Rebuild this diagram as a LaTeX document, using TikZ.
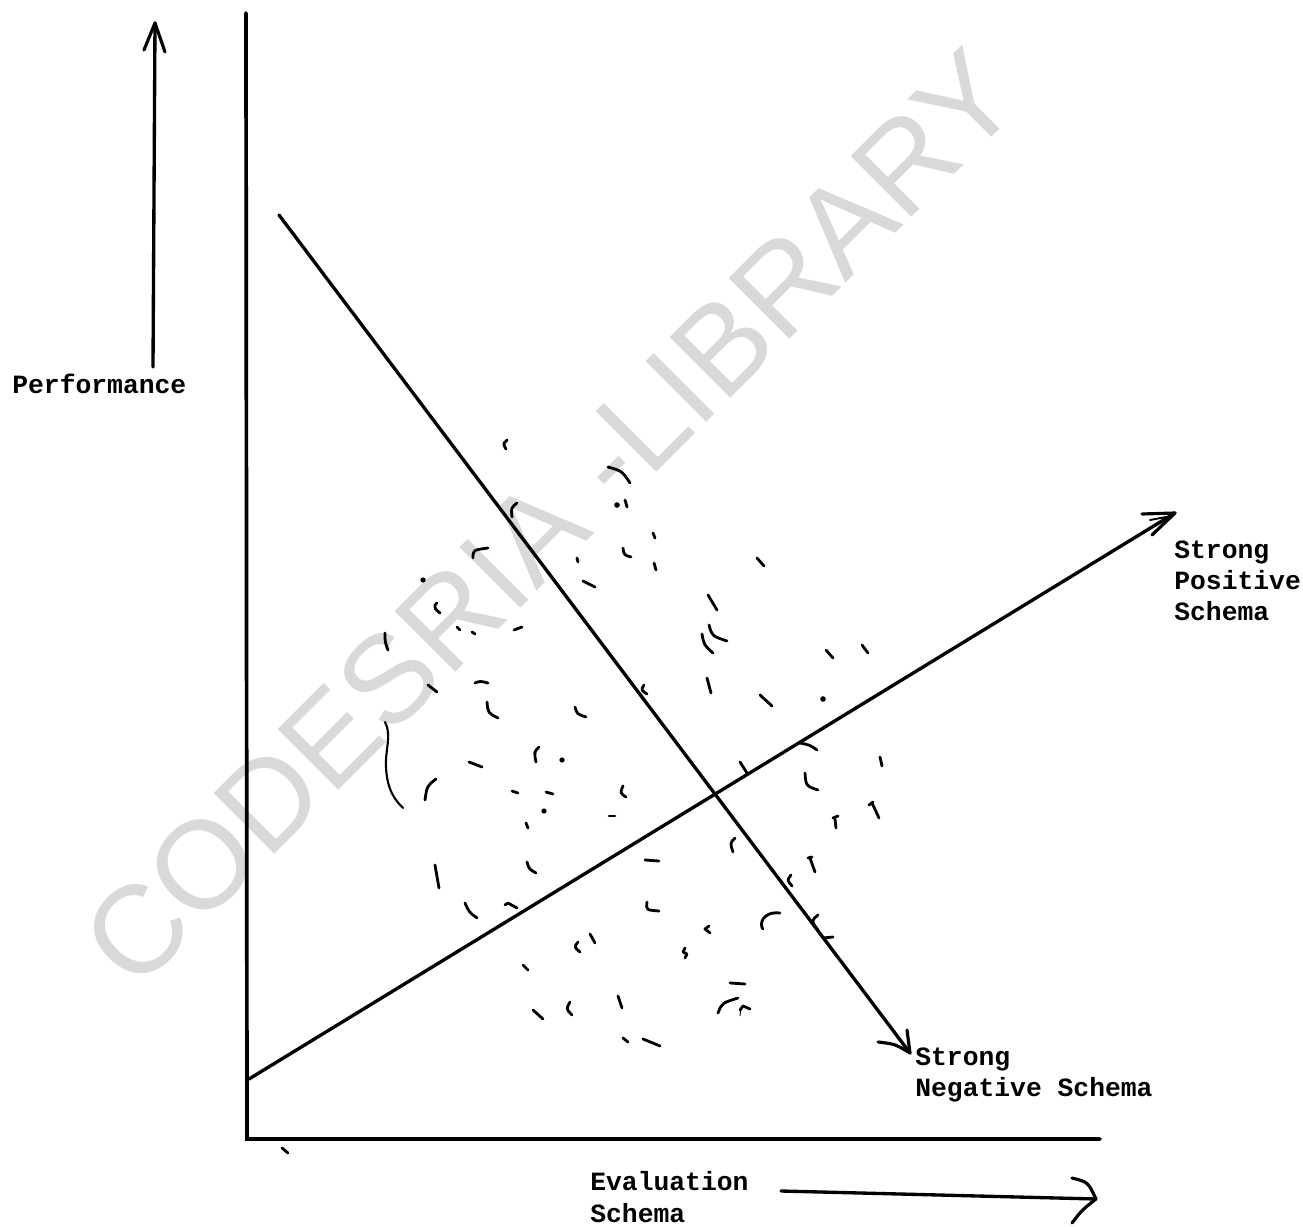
\documentclass[tikz,border=0pt]{standalone}
\usepackage{fontspec}
\newfontfamily\tw{Liberation Mono}
\newfontfamily\wmfont{Liberation Sans}
\begin{document}
\begin{tikzpicture}[x=0.02cm,y=-0.02cm,
  axisline/.style={line width=2.1pt,line cap=round},
  mainline/.style={line width=1.9pt,line cap=round,line join=round},
  barb/.style={line width=1.8pt,line cap=round,line join=round},
  mk/.style={line width=1.6pt,line cap=round,line join=round},
  dotmk/.style={fill=black},
  lbl/.style={font=\tw\bfseries\fontsize{15pt}{18pt}\selectfont,inner sep=0pt,anchor=base west},
  wm/.style={font=\wmfont\fontsize{71pt}{71pt}\selectfont,text=black!15,inner sep=0pt}]
\useasboundingbox (0,0) rectangle (1303,1227);
% watermark
\node[wm,rotate=45] (watermark) at (550,518) {CODESRIA -LIBRARY};
% coordinates
\coordinate (ytop) at (246,13);
\coordinate (origin) at (247,1139);
\coordinate (xend) at (1100,1139);
\coordinate (perfB) at (153,367);
\coordinate (perfT) at (155,23);
\coordinate (negS) at (279,215);
\coordinate (negT) at (910,1053);
\coordinate (posS) at (249,1079);
\coordinate (posT) at (1175,513);
\coordinate (evS) at (781,1191);
\coordinate (evT) at (1096,1199);
% axes
\draw[axisline] (ytop) -- (origin) -- (xend);
\draw[mk] (282,1148) -- (288,1153);
% performance arrow
\draw[mainline] (perfB) -- (perfT);
\draw[barb] (144,50) -- (perfT) -- (165,52);
% negative schema line
\draw[mainline] (negS) -- (negT);
\draw[barb] (878,1042) .. controls (895,1044) .. (negT) -- (907,1030);
% positive schema line
\draw[mainline] (posS) -- (posT);
\draw[barb] (1142,514) -- (posT) -- (1152,535);
\draw[line width=1.1pt,line cap=round] (1150,520) -- (1166,517);
% evaluation arrow
\draw[mainline] (evS) -- (evT);
\draw[barb] (1072,1178) .. controls (1088,1182) .. (evT) .. controls (1082,1210) .. (1072,1223);
% labels
\node[lbl] (perf) at (12,393) {Performance};
\node[lbl] (posA) at (1174,558) {Strong};
\node[lbl] (posB) at (1174,589) {Positive};
\node[lbl] (posC) at (1174,620) {Schema};
\node[lbl] (negA) at (915,1065) {Strong};
\node[lbl] (negB) at (915,1096) {Negative Schema};
\node[lbl] (evA) at (590,1190) {Evaluation};
\node[lbl] (evB) at (590,1222) {Schema};
% scatter marks
\draw[mk] (507,440) .. controls (503,444) .. (506,449);
\draw[mk] (608,467) .. controls (622,471) .. (630,483);
\draw[mk] (625,500) -- (627,507);
\draw[mk] (517,503) .. controls (511,508) .. (512,517);
\draw[mk] (653,533) -- (655,538);
\draw[mk] (473,558) .. controls (473,550) .. (488,548);
\draw[mk] (623,548) .. controls (624,555) .. (631,557);
\draw[mk] (577,558) -- (578,562);
\draw[mk] (654,563) -- (656,570);
\draw[mk] (583,581) -- (595,587);
\draw[mk] (437,603) -- (435,605) .. controls (435,609) .. (440,613);
\draw[mk] (457,627) -- (460,630);
\draw[mk] (472,632) -- (475,634);
\draw[mk] (514,630) -- (522,627);
\draw[mk] (385,633) .. controls (385,642) .. (388,650);
\draw[mk] (428,685) -- (437,692);
\draw[mk] (475,683) .. controls (480,681) .. (488,683);
\draw[mk] (487,702) .. controls (488,713) .. (498,718);
\draw[mk] (575,707) .. controls (577,714) .. (586,717);
\draw[mk] (644,685) .. controls (641,690) .. (647,694);
\draw[mk] (757,558) -- (764,566);
\draw[mk] (708,595) -- (717,610);
\draw[mk] (709,625) .. controls (712,636) .. (727,641);
\draw[mk] (702,634) .. controls (704,645) .. (713,653);
\draw[mk] (826,650) -- (833,658);
\draw[mk] (862,645) -- (868,653);
\draw[mk] (707,678) -- (711,693);
\draw[mk] (760,695) -- (772,706);
\draw[mk] (800,743) .. controls (810,745) .. (817,750);
\draw[mk] (740,762) -- (747,773);
\draw[mk] (880,757) -- (882,766);
\draw[mk] (805,773) .. controls (806,786) .. (818,790);
\draw[mk] (623,786) .. controls (620,793) .. (626,797);
\draw[mk] (873,802) -- (869,805);
\draw[mk] (872,803) -- (879,818);
\draw[mk] (833,818) -- (838,816);
\draw[mk] (835,819) -- (836,828);
\draw[mk] (609,816) -- (615,816);
\draw[line width=1.2pt,line cap=round] (385,722) .. controls (392,735) and (385,750) .. (386,767) .. controls (387,790) and (395,800) .. (403,808);
\draw[mk] (539,747) .. controls (534,752) .. (536,762);
\draw[mk] (469,762) -- (482,767);
\draw[mk] (436,779) .. controls (427,786) .. (425,800);
\draw[mk] (512,791) -- (518,793);
\draw[mk] (546,792) -- (553,794);
\draw[mk] (526,823) -- (528,828);
\draw[mk] (735,838) .. controls (730,843) .. (733,852);
\draw[mk] (645,860) -- (659,861);
\draw[mk] (435,865) -- (439,888);
\draw[mk] (527,862) .. controls (529,869) .. (536,873);
\draw[mk] (808,858) -- (812,857);
\draw[mk] (810,858) -- (815,872);
\draw[mk] (791,875) .. controls (787,880) .. (792,886);
\draw[mk] (465,903) .. controls (469,912) .. (477,918);
\draw[mk] (505,905) -- (508,903) -- (517,908);
\draw[mk] (647,902) .. controls (646,910) .. (659,911);
\draw[mk] (780,913) .. controls (762,911) and (759,925) .. (763,929);
\draw[mk] (818,915) .. controls (811,921) .. (818,930);
\draw[mk] (823,938) -- (833,937);
\draw[mk] (709,926) -- (705,929) -- (710,933);
\draw[mk] (590,934) -- (595,943);
\draw[mk] (578,942) .. controls (574,947) .. (580,952);
\draw[mk] (685,948) -- (683,952) -- (687,954) -- (685,958);
\draw[mk] (523,965) -- (528,970);
\draw[mk] (730,983) -- (745,984);
\draw[mk] (738,998) .. controls (722,1003) .. (718,1013);
\draw[mk] (740,1010) -- (743,1006) -- (750,1009);
\draw[line width=0.5pt] (741,1008) -- (740,1016);
\draw[mk] (533,1010) -- (543,1019);
\draw[mk] (570,1002) .. controls (566,1009) .. (572,1015);
\draw[mk] (618,996) -- (622,1008);
\draw[mk] (623,1038) -- (628,1042);
\draw[mk] (643,1039) -- (660,1046);
\fill[dotmk] (617,505) circle[radius=1.6pt];
\fill[dotmk] (423,580) circle[radius=1.5pt];
\fill[dotmk] (823,699) circle[radius=1.6pt];
\fill[dotmk] (562,760) circle[radius=1.5pt];
\fill[dotmk] (544,811) circle[radius=1.5pt];
\end{tikzpicture}
\end{document}
